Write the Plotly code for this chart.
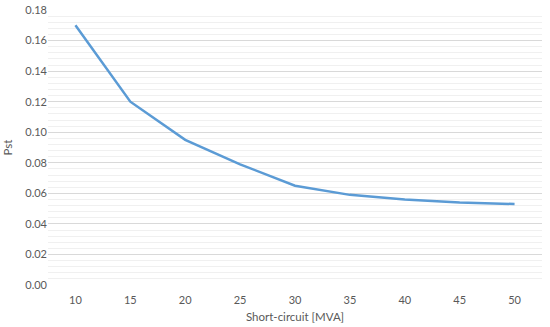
import plotly.graph_objects as go

short_circuit = [10, 15, 20, 25, 30, 35, 40, 45, 50]
pst = [0.170, 0.120, 0.095, 0.079, 0.065, 0.059, 0.056, 0.054, 0.053]
y_ticks = [0.00, 0.02, 0.04, 0.06, 0.08, 0.10, 0.12, 0.14, 0.16, 0.18]

fig = go.Figure()
fig.add_trace(go.Scatter(x=short_circuit, y=pst, mode="lines",
                         line=dict(color="#5B9BD5", width=2.5)))

font = dict(family="Lato, Open Sans, sans-serif", size=11, color="#595959")
fig.update_layout(
    width=550, height=327,
    margin=dict(l=48, r=8, t=10, b=42),
    paper_bgcolor="white", plot_bgcolor="white",
    showlegend=False,
    font=font,
    xaxis=dict(range=[7.5, 52.5], tickvals=short_circuit,
               ticktext=[str(v) for v in short_circuit],
               showgrid=False, zeroline=False, showline=False, ticks="",
               automargin=False, ticklabelstandoff=7,
               title=dict(text="Short-circuit [MVA]", standoff=7,
                          font=dict(size=11.5, color="#595959"))),
    yaxis=dict(range=[0, 0.18], tickvals=y_ticks,
               ticktext=[f"{v:.2f}" for v in y_ticks],
               showgrid=True, gridcolor="#d9d9d9", gridwidth=1,
               zeroline=False, showline=False, ticks="",
               automargin=False,
               minor=dict(dtick=0.004, showgrid=True, gridcolor="#f0f0f0", gridwidth=1),
               title=dict(text="Pst", standoff=10,
                          font=dict(size=11.5, color="#595959"))),
)
fig.write_html("out.html", config={"displayModeBar": False},
               post_script="document.body.style.margin='0';document.body.style.overflow='hidden';")
